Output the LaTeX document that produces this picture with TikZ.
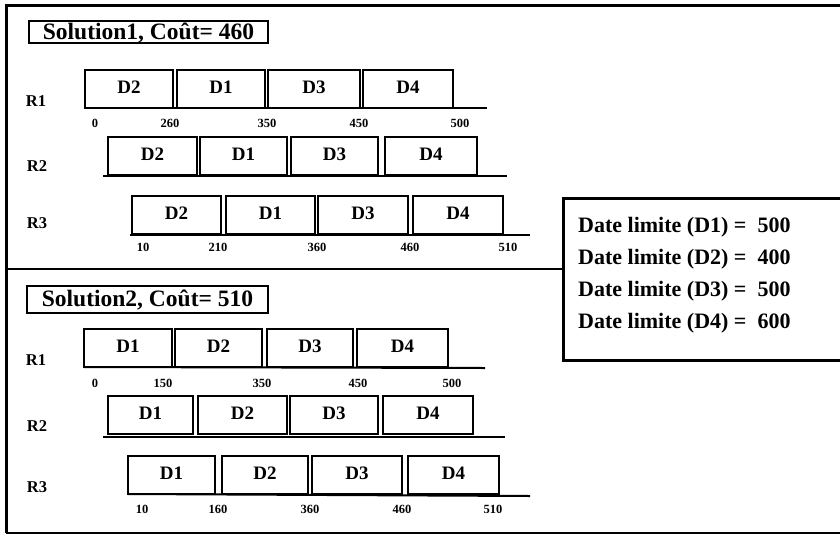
\documentclass[tikz,border=0pt]{standalone}
\usepackage{fontspec}
\setmainfont{Liberation Serif}
\usetikzlibrary{positioning}

\begin{document}
\begin{tikzpicture}[x=1pt, y=-1pt, line join=miter,
    task/.style={draw, line width=2.4pt, anchor=south west, outer sep=0pt, inner sep=0pt,
        minimum height=38pt, text height=13pt, text depth=5pt,
        font=\fontsize{19}{19}\selectfont\bfseries},
    res/.style={font=\fontsize{16.5}{16.5}\selectfont\bfseries},
    tick/.style={font=\fontsize{12.5}{12.5}\selectfont\bfseries},
    soltitle/.style={draw, line width=2.4pt, anchor=north west, outer sep=0pt, inner sep=0pt,
        text height=16.5pt, text depth=2pt, font=\fontsize{23.5}{23.5}\selectfont\bfseries},
    axis/.style={line width=2pt},
    legline/.style={anchor=west, inner sep=0pt, font=\fontsize{22}{22}\selectfont\bfseries}]
    \useasboundingbox (0,0) rectangle (840,536);

    % frame
    \draw[line width=3pt] (860,5) -- (6,5) -- (6,533);
    \draw[line width=2pt] (6,533) -- (860,533);

    % legend box
    \node[draw, line width=3pt, anchor=north west, outer sep=0pt, minimum width=290pt, minimum height=162pt] (leg) at (563,198) {};
    \node[legline] (dl1) at (578,227) {Date limite (D1) =\ \ 500};
    \node[legline] (dl2) at (578,259) {Date limite (D2) =\ \ 400};
    \node[legline] (dl3) at (578,291) {Date limite (D3) =\ \ 500};
    \node[legline] (dl4) at (578,323) {Date limite (D4) =\ \ 600};
    \coordinate (split) at (6,269);
    \draw[line width=2.5pt] (split) -- (leg.west |- split);

    % Solution 1
    \node[soltitle, minimum width=239pt, minimum height=22pt] (sola) at (29,21) {Solution1, Coût= 460};

    \node[res] (a1) at (36,101) {R1};
    \node[task, minimum width=88pt] (a1d2) at (85,108) {D2};
    \node[task, minimum width=88pt] (a1d1) at (177,108) {D1};
    \node[task, minimum width=92pt] (a1d3) at (268,108) {D3};
    \node[task, minimum width=90pt] (a1d4) at (363,108) {D4};
    \coordinate (a1end) at (487,108);
    \draw[axis] (a1d2.south west) -- (a1end);
    \node[tick] (a1t0) at (95,123) {0};
    \node[tick] (a1t1) at (170,123) {260};
    \node[tick] (a1t2) at (267,123) {350};
    \node[tick] (a1t3) at (359,123) {450};
    \node[tick] (a1t4) at (460,123) {500};

    \node[res] (a2) at (37,166) {R2};
    \node[task, minimum width=89pt] (a2d2) at (108,175) {D2};
    \node[task, minimum width=87pt] (a2d1) at (200,175) {D1};
    \node[task, minimum width=87pt] (a2d3) at (291,175) {D3};
    \node[task, minimum width=92pt] (a2d4) at (385,175) {D4};
    \coordinate (a2start) at (103,176);
    \coordinate (a2end) at (507,176);
    \draw[axis] (a2start) -- (a2end);

    \node[res] (a3) at (37,223) {R3};
    \node[task, minimum width=89pt] (a3d2) at (132,234) {D2};
    \node[task, minimum width=89pt] (a3d1) at (226,234) {D1};
    \node[task, minimum width=90pt] (a3d3) at (318,234) {D3};
    \node[task, minimum width=90pt] (a3d4) at (413,234) {D4};
    \coordinate (a3start) at (130,235);
    \coordinate (a3end) at (530,235);
    \draw[axis] (a3start) -- (a3end);
    \node[tick] (a3t0) at (143,247) {10};
    \node[tick] (a3t1) at (218,247) {210};
    \node[tick] (a3t2) at (317,247) {360};
    \node[tick] (a3t3) at (410,247) {460};
    \node[tick] (a3t4) at (508,247) {510};

    % Solution 2
    \node[soltitle, minimum width=241pt, minimum height=27pt] (solb) at (27,286) {Solution2, Coût= 510};

    \node[res] (b1) at (36,360) {R1};
    \node[task, minimum width=88pt] (b1d1) at (84,367) {D1};
    \node[task, minimum width=87pt] (b1d2) at (175,367) {D2};
    \node[task, minimum width=86pt] (b1d3) at (267,367) {D3};
    \node[task, minimum width=91pt] (b1d4) at (357,367) {D4};
    \coordinate (b1end) at (485,368);
    \draw[axis] (b1d1.south west) -- (b1end);
    \node[tick] (b1t0) at (95,383) {0};
    \node[tick] (b1t1) at (163,383) {150};
    \node[tick] (b1t2) at (262,383) {350};
    \node[tick] (b1t3) at (358,383) {450};
    \node[tick] (b1t4) at (452,383) {500};

    \node[res] (b2) at (37,426) {R2};
    \node[task, minimum width=85pt] (b2d1) at (108,434) {D1};
    \node[task, minimum width=89pt] (b2d2) at (198,434) {D2};
    \node[task, minimum width=88pt] (b2d3) at (290,434) {D3};
    \node[task, minimum width=90pt] (b2d4) at (383,434) {D4};
    \coordinate (b2start) at (103,437);
    \coordinate (b2end) at (505,437);
    \draw[axis] (b2start) -- (b2end);

    \node[res] (b3) at (37,487) {R3};
    \node[task, minimum width=87pt] (b3d1) at (128,494) {D1};
    \node[task, minimum width=86pt] (b3d2) at (222,494) {D2};
    \node[task, minimum width=90pt] (b3d3) at (312,494) {D3};
    \node[task, minimum width=91pt] (b3d4) at (408,494) {D4};
    \coordinate (b3end) at (530,496);
    \draw[axis] (b3d1.south west) -- (b3end);
    \node[tick] (b3t0) at (142,509) {10};
    \node[tick] (b3t1) at (218,509) {160};
    \node[tick] (b3t2) at (310,509) {360};
    \node[tick] (b3t3) at (402,509) {460};
    \node[tick] (b3t4) at (493,509) {510};
\end{tikzpicture}
\end{document}
